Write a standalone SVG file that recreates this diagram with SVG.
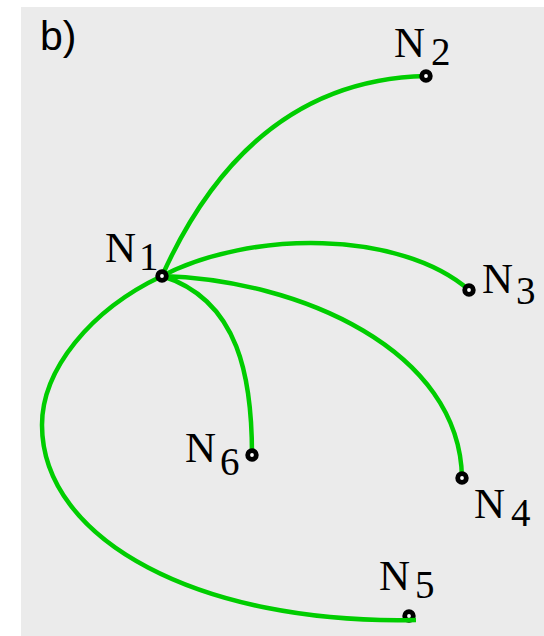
<svg xmlns="http://www.w3.org/2000/svg" width="544" height="636" viewBox="0 0 544 636">
<style>
.edge{fill:none;stroke:#00cd00;stroke-width:4.5;stroke-linecap:butt}
.node{fill:#fff;stroke:#000;stroke-width:4.8}
.lbl{font-family:"Liberation Serif","Times New Roman",serif;font-size:43px;fill:#000}
.sub{font-size:39px}
.title{font-family:"Liberation Sans",Arial,sans-serif;font-size:41px;fill:#000}
</style>
<rect x="21" y="7" width="523" height="629" fill="#ebebeb"/>
<text class="title" x="40" y="50">b)</text>
<g id="N5"><circle class="node" cx="409" cy="616" r="4.3"/><text class="lbl" x="379" y="590">N<tspan class="sub" x="415" y="598">5</tspan></text></g>
<g id="connectors">
<path class="edge" d="M162,276 Q250,80 426,76"/>
<path class="edge" d="M162,276 C250,230 400,230 469,290"/>
<path class="edge" d="M162,276 C300,280 460,350 462,478"/>
<path class="edge" d="M162,276 C240,300 252,380 252,455"/>
<path class="edge" d="M162,276 C90,310 42,370 42,425 C42,540 200,625 416,620"/>
</g>
<g id="N1"><circle class="node" cx="162" cy="276" r="4.3"/><text class="lbl" x="105" y="262">N<tspan class="sub" x="139" y="270">1</tspan></text></g>
<g id="N2"><circle class="node" cx="426" cy="76" r="4.3"/><text class="lbl" x="394" y="57">N<tspan class="sub" x="431" y="65">2</tspan></text></g>
<g id="N3"><circle class="node" cx="469" cy="290" r="4.3"/><text class="lbl" x="482" y="293">N<tspan class="sub" x="516" y="304">3</tspan></text></g>
<g id="N4"><circle class="node" cx="462" cy="478" r="4.3"/><text class="lbl" x="474" y="518">N<tspan class="sub" x="511" y="526">4</tspan></text></g>
<g id="N6"><circle class="node" cx="252" cy="455" r="4.3"/><text class="lbl" x="185" y="462">N<tspan class="sub" x="220" y="475">6</tspan></text></g>
</svg>
